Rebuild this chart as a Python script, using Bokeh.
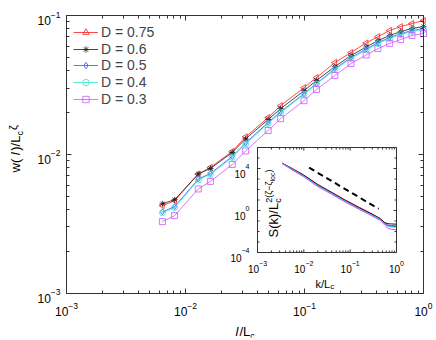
import math
from bokeh.plotting import figure
from bokeh.models import (LogAxis, FixedTicker, Label, Legend, LegendItem, Range1d,
                          LogScale, CustomJSTickFormatter)
from bokeh.embed import file_html
from bokeh.resources import INLINE

FONT = "Liberation Sans"

# ---------------- main panel data: w(l)/Lc^zeta versus l/Lc ----------------
l_over_L = [0.0064, 0.0081, 0.0128, 0.0162, 0.0247, 0.032, 0.0495, 0.063, 0.099,
            0.126, 0.18, 0.246, 0.33, 0.414, 0.52, 0.643, 0.8, 1.0]
w_D075 = [0.00426, 0.00462, 0.0072, 0.00803, 0.01048, 0.01334, 0.0184, 0.0224, 0.0302,
          0.0357, 0.0458, 0.0541, 0.0634, 0.0704, 0.0780, 0.0832, 0.0875, 0.0920]
w_D060 = [0.0044, 0.0047, 0.0072, 0.0079, 0.0103, 0.0129, 0.0178, 0.0213, 0.0287,
          0.0340, 0.0428, 0.0515, 0.0593, 0.0659, 0.0718, 0.0766, 0.0806, 0.0833]
w_D050 = [0.00385, 0.00419, 0.00663, 0.00727, 0.00964, 0.01207, 0.01694, 0.02027, 0.0273,
          0.03235, 0.0414, 0.0498, 0.0573, 0.0637, 0.0694, 0.0741, 0.0779, 0.0806]
w_D040 = [0.00379, 0.00412, 0.00652, 0.00716, 0.00948, 0.01188, 0.01665, 0.01993, 0.0271,
          0.0321, 0.0407, 0.0490, 0.0564, 0.0627, 0.0683, 0.0729, 0.0767, 0.0793]
w_D030 = [0.00327, 0.00361, 0.00562, 0.00637, 0.00844, 0.01057, 0.01483, 0.01805, 0.02432,
          0.0293, 0.0369, 0.0451, 0.0519, 0.0577, 0.0629, 0.0671, 0.0718, 0.0742]
D_labels = ["D = 0.75", "D = 0.6", "D = 0.5", "D = 0.4", "D = 0.3"]

# ---------------- inset data: S(k) collapse ----------------
k_over_L = [0.0034, 0.0063, 0.01, 0.02, 0.04, 0.079, 0.158, 0.28, 0.45, 0.56, 0.66, 0.79, 1.0]
S_D075 = [3.3e4, 7.6e3, 2.4e3, 3.1e2, 55, 9.8, 2.0, 0.55, 0.17, 0.065, 0.04, 0.036, 0.035]
S_D060 = [3.2e4, 7.1e3, 2.2e3, 2.8e2, 50, 8.9, 1.8, 0.5, 0.16, 0.07, 0.055, 0.052, 0.05]
S_D050 = [3.1e4, 6.3e3, 1.9e3, 2.4e2, 43, 7.6, 1.5, 0.43, 0.14, 0.055, 0.035, 0.031, 0.03]
S_D040 = [3.0e4, 5.9e3, 1.8e3, 2.2e2, 40, 7.1, 1.4, 0.40, 0.13, 0.05, 0.03, 0.026, 0.025]
S_D030 = [2.9e4, 5.3e3, 1.6e3, 1.9e2, 35, 6.2, 1.25, 0.35, 0.11, 0.04, 0.02, 0.016, 0.015]
guide_k = [0.013, 0.41]
guide_S = [1.2e4, 1.45]

main_x_range = (1e-3, 1e0)
main_y_range = (1e-3, 1e-1)
main_x_ticks = [1e-3, 1e-2, 1e-1, 1e0]
main_x_exps = ["\u22123", "\u22122", "\u22121", "0"]
main_y_ticks = [1e-3, 1e-2, 1e-1]
main_y_exps = ["\u22123", "\u22122", "\u22121"]
ins_x_range = (1e-3, 1e0)
ins_y_range = (1e-4, 1e6)
ins_x_ticks = [1e-3, 1e-2, 1e-1, 1e0]
ins_x_exps = ["\u22123", "\u22122", "\u22121", "0"]
ins_y_ticks = [1e-4, 1e0, 1e4]
ins_y_exps = ["\u22124", "0", "4"]

colors = ["#ff1a1a", "#1a1a1a", "#3355ff", "#2ee6cc", "#cc55ff"]
markers = ["triangle", "asterisk", "diamond", "circle", "square"]
angles = [math.pi / 2, 0, 0, 0, 0]
w_series = [w_D075, w_D060, w_D050, w_D040, w_D030]
S_series = [S_D075, S_D060, S_D050, S_D040, S_D030]

# ---------------- geometry (canvas pixels) ----------------
CW, CH, MB = 436, 340, 3                   # canvas and border around the frame
FL, FR, FT, FB = 66, 423, 15, 292.5        # main axes box
IL, IR, IT, IB = 257, 396, 147, 252        # inset axes box
AX = "#333333"
LEG_LEFT, LEG_FIRST, LEG_PITCH, LEG_ROW_H = 73, 30.7, 16.65, 18.5

# glyph widths (Helvetica metrics, per 1000 em)
W = {' ': 278, '(': 333, ')': 333, '/': 278, '.': 278, '=': 584, 'D': 722, 'L': 556,
     'S': 667, 'c': 500, 'k': 500, 'l': 222, 'o': 556, 'w': 722, '\u2212': 584,
     '-': 333, '\u03b6': 450}


def tw(s, size):
    return sum(W.get(ch, 556) for ch in s) / 1000.0 * size


def minor_decades(lo, hi):
    return [m * 10.0 ** e for e in range(lo, hi) for m in range(2, 10)]


class LogMap:
    """maps canvas pixels <-> data for a log axis box"""
    def __init__(self, xr, yr, box):
        self.x0, self.x1 = [math.log10(v) for v in xr]
        self.y0, self.y1 = [math.log10(v) for v in yr]
        self.L, self.R, self.T, self.B = box
        self.xppd = (self.R - self.L) / (self.x1 - self.x0)
        self.yppd = (self.B - self.T) / (self.y1 - self.y0)

    def xy(self, px, py):
        return (10 ** (self.x0 + (px - self.L) / self.xppd),
                10 ** (self.y1 - (py - self.T) / self.yppd))

    def px(self, x):
        return self.L + self.xppd * (math.log10(x) - self.x0)

    def py(self, y):
        return self.T + self.yppd * (self.y1 - math.log10(y))

    def frame_ranges(self):
        l, b = self.xy(MB, CH - MB)
        r, t = self.xy(CW - MB, MB)
        return Range1d(l, r), Range1d(b, t)


M = LogMap(main_x_range, main_y_range, (FL, FR, FT, FB))
I = LogMap(ins_x_range, ins_y_range, (IL, IR, IT, IB))
mxr, myr = M.frame_ranges()
ixr, iyr = I.frame_ranges()

p = figure(width=CW, height=CH, x_axis_type="log", y_axis_type="log",
           x_axis_location=None, y_axis_location=None,
           x_range=mxr, y_range=myr, output_backend="svg", toolbar_location=None,
           min_border_left=MB, min_border_right=MB, min_border_top=MB, min_border_bottom=MB)
p.extra_x_ranges = {"ix": ixr}
p.extra_y_ranges = {"iy": iyr}
p.extra_x_scales = {"ix": LogScale()}
p.extra_y_scales = {"iy": LogScale()}
p.grid.visible = False
p.outline_line_color = None
p.background_fill_color = "white"
p.border_fill_color = "white"


def main_axis(side, fixed, bounds, ticks, minor):
    ax = LogAxis(fixed_location=fixed, bounds=bounds)
    ax.ticker = FixedTicker(ticks=ticks, minor_ticks=minor)
    ax.formatter = CustomJSTickFormatter(code="return ''")
    ax.major_tick_in = 5
    ax.major_tick_out = 0
    ax.minor_tick_in = 3
    ax.minor_tick_out = 0
    ax.major_label_text_font_size = "1px"
    ax.major_label_text_color = None
    ax.major_label_standoff = 0
    ax.axis_line_color = AX
    ax.major_tick_line_color = AX
    ax.minor_tick_line_color = AX
    p.add_layout(ax, side)


mxm = minor_decades(-3, 0)
mym = minor_decades(-3, -1)
main_axis("below", main_y_range[0], main_x_range, main_x_ticks, mxm)
main_axis("above", main_y_range[1], main_x_range, main_x_ticks, mxm)
main_axis("left", main_x_range[0], main_y_range, main_y_ticks, mym)
main_axis("right", main_x_range[1], main_y_range, main_y_ticks, mym)

for i, (lab, ys, c, m, a) in enumerate(zip(D_labels, w_series, colors, markers, angles)):
    r1 = p.line(l_over_L, ys, line_color=c, line_width=0.8)
    r2 = p.scatter(l_over_L, ys, marker=m, size=6, angle=a, line_color=c,
                   fill_color=None, line_width=0.8)
    row_center = LEG_FIRST + i * LEG_PITCH
    leg = Legend(items=[LegendItem(label=lab, renderers=[r1, r2])],
                 location=(LEG_LEFT - MB, (CH - MB) - (row_center + LEG_ROW_H / 2)),
                 label_text_font=FONT, label_text_font_size="14px", glyph_width=25,
                 glyph_height=16, label_height=16, label_standoff=3, spacing=0,
                 padding=0, margin=0, border_line_alpha=0, background_fill_alpha=0)
    p.add_layout(leg)

# ---------------- inset (own log scales) ----------------
IRN = dict(x_range_name="ix", y_range_name="iy")
kx_lo, kx_hi = ins_x_range
sy_lo, sy_hi = ins_y_range
p.quad(left=[kx_lo], right=[kx_hi], top=[sy_hi], bottom=[sy_lo], fill_color="white",
       line_color=None, **IRN)
for ys, c in zip(S_series, colors):
    p.line(k_over_L, ys, line_color=c, line_width=1, **IRN)
p.line(guide_k, guide_S, line_color="black", line_width=2, line_dash="6 4", **IRN)

sx0, sx1, sy0, sy1 = [], [], [], []


def add_xtick(x, length):
    sx0.extend([x, x]); sx1.extend([x, x])
    sy0.extend([sy_lo, sy_hi])
    sy1.extend([I.xy(0, IB - length)[1], I.xy(0, IT + length)[1]])


def add_ytick(y, length):
    sy0.extend([y, y]); sy1.extend([y, y])
    sx0.extend([kx_lo, kx_hi])
    sx1.extend([I.xy(IL + length, 0)[0], I.xy(IR - length, 0)[0]])


for t in ins_x_ticks:
    add_xtick(t, 3)
for t in minor_decades(-3, 0):
    add_xtick(t, 2)
for t in ins_y_ticks:
    add_ytick(t, 3)
for e in range(-4, 7):
    if 10.0 ** e not in ins_y_ticks:
        add_ytick(10.0 ** e, 2)
p.segment(x0=sx0, y0=sy0, x1=sx1, y1=sy1, line_color=AX, line_width=1, **IRN)
p.quad(left=[kx_lo], right=[kx_hi], top=[sy_hi], bottom=[sy_lo], fill_color=None,
       line_color=AX, line_width=1, **IRN)


# ---------------- texts ----------------
def put(px, py, text, size, style="normal", angle=0.0, align="left", baseline="alphabetic"):
    x, y = M.xy(px, py)
    p.add_layout(Label(x=x, y=y, text=text, text_font=FONT,
                       text_font_size=f"{size}px", text_font_style=style,
                       angle=angle, text_align=align, text_baseline=baseline,
                       text_color="black"))


def put_up(bx, start_y, text, size, style="normal"):
    """vertical text reading upward; bx = baseline x, start_y = where the text begins"""
    cy = start_y - tw(text, size) / 2
    cx = bx - 0.35 * size
    put(cx, cy, text, size, style=style, angle=math.pi / 2, align="center",
        baseline="middle")
    return start_y - tw(text, size)


for t, e in zip(main_x_ticks, main_x_exps):
    tx = M.px(t)
    w10, we = tw("10", 12), tw(e, 8.5)
    start = min(tx - (w10 + we) / 2, CW - MB - 1 - (w10 + we))
    put(start, 311, "10", 12)
    put(start + w10, 305, e, 8.5)
for t, e in zip(main_y_ticks, main_y_exps):
    ty = M.py(t)
    we = tw(e, 8.5)
    put(60, ty - 1, e, 8.5, align="right")
    put(60 - we, ty + 5, "10", 12, align="right")

xs = 235
put(xs, 331, "l", 13, style="italic")
put(xs + tw("l", 13) + 1, 331, "/L", 13)
put(xs + tw("l", 13) + 1 + tw("/L", 13), 335, "c", 9)

# y label  w( l )/L_c^zeta
bx = 20
y = put_up(bx, 172, "w( ", 13)
y = put_up(bx, y, "l", 13, style="italic") - 1.5
y = put_up(bx, y, ")/L", 13)
y = put_up(bx + 3, y, "c", 9)
put_up(bx - 4, y - 1, "\u03b6", 11)

for t, e in zip(ins_x_ticks, ins_x_exps):
    tx = I.px(t)
    w10, we = tw("10", 10), tw(e, 7)
    start = tx - (w10 + we) / 2
    put(start, 268.3, "10", 10)
    put(start + w10, 263, e, 7)
for t, e in zip(ins_y_ticks, ins_y_exps):
    ty = I.py(t)
    we = tw(e, 7)
    put(249, ty - 2, e, 7, align="right")
    put(249 - we, ty + 5, "10", 10, align="right")

put(315, 283, "k/L", 11)
put(315 + tw("k/L", 11), 286, "c", 8)

# inset y label  S(k)/L_c^{2(zeta - zeta_loc)}
ibx = 278
j = put_up(ibx, 237, "S(k)/L", 13)
put_up(ibx + 3, j, "c", 9)
j = put_up(ibx - 6, j, "2(\u03b6\u2212\u03b6", 9)
j = put_up(ibx - 4, j, "loc", 7)
put_up(ibx - 6, j, ")", 9)

open("out.html", "w").write(file_html(p, INLINE))
